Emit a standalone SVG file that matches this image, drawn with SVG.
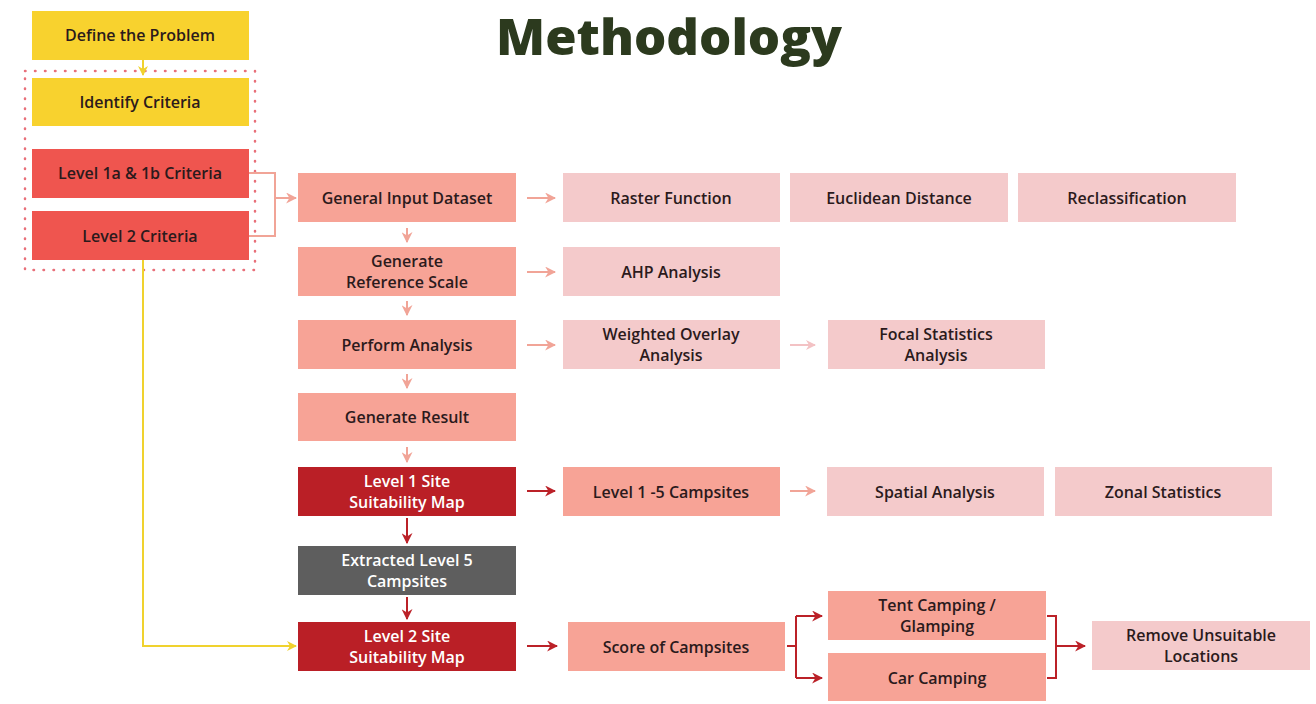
<svg xmlns="http://www.w3.org/2000/svg" width="1316" height="704" viewBox="0 0 1316 704">
<defs>
<style>
text{font-family:"Open Sans","Noto Sans","Liberation Sans",sans-serif;font-weight:600;font-size:16px;fill:#2b1a1c;text-anchor:middle}
.title{font-size:50px;font-weight:800;fill:#2c3a1e}
.w{fill:#ffffff}
.yel{fill:#f8d22e}
.red{fill:#ef554f}
.sal{fill:#f7a396}
.pnk{fill:#f4cacb}
.drk{fill:#ba1f26}
.gry{fill:#5e5e5e}
.c{fill:none;stroke-width:2}
</style>
<marker id="aP" viewBox="0 0 10 10" refX="9" refY="5" markerWidth="5.5" markerHeight="5.5" orient="auto"><path d="M0,0 L10,5 L0,10 L3,5 z" fill="#f1a497"/></marker>
<marker id="aL" viewBox="0 0 10 10" refX="9" refY="5" markerWidth="5" markerHeight="5" orient="auto"><path d="M0,0 L10,5 L0,10 L3,5 z" fill="#f3c2c4"/></marker>
<marker id="aR" viewBox="0 0 10 10" refX="9" refY="5" markerWidth="5.5" markerHeight="5.5" orient="auto"><path d="M0,0 L10,5 L0,10 L3,5 z" fill="#bb2128"/></marker>
<marker id="aY" viewBox="0 0 10 10" refX="9" refY="5" markerWidth="5" markerHeight="5" orient="auto"><path d="M0,0 L10,5 L0,10 L3,5 z" fill="#f0d22e"/></marker>
</defs>
<rect width="1316" height="704" fill="#ffffff"/>
<text class="title" x="669" y="55" textLength="346" lengthAdjust="spacingAndGlyphs">Methodology</text>

<g id="connectors">
<rect x="25" y="71" width="230" height="199" fill="none" stroke="#e8707a" stroke-width="2.5" stroke-dasharray="0.5 9.5" stroke-linecap="round"/>
<path class="c" d="M143,60 V75" stroke="#f0d22e" marker-end="url(#aY)"/>
<path class="c" d="M143,260 V646 H296" stroke="#f0d22e" marker-end="url(#aY)"/>
<path class="c" d="M249,173 H275 V236 H249" stroke="#f1a497"/>
<path class="c" d="M275,198 H296" stroke="#f1a497" marker-end="url(#aP)"/>
<path class="c" d="M527,198 H555" stroke="#f1a497" marker-end="url(#aP)"/>
<path class="c" d="M527,272 H555" stroke="#f1a497" marker-end="url(#aP)"/>
<path class="c" d="M527,345 H555" stroke="#f1a497" marker-end="url(#aP)"/>
<path class="c" d="M790,345 H815" stroke="#f3c2c4" marker-end="url(#aL)"/>
<path class="c" d="M407,228 V242" stroke="#f1a497" marker-end="url(#aP)"/>
<path class="c" d="M407,301 V315" stroke="#f1a497" marker-end="url(#aP)"/>
<path class="c" d="M407,374 V388" stroke="#f1a497" marker-end="url(#aP)"/>
<path class="c" d="M407,447 V462" stroke="#f1a497" marker-end="url(#aP)"/>
<path class="c" d="M527,491 H555" stroke="#bb2128" marker-end="url(#aR)"/>
<path class="c" d="M790,491 H815" stroke="#f1a497" marker-end="url(#aP)"/>
<path class="c" d="M407,518 V543" stroke="#bb2128" marker-end="url(#aR)"/>
<path class="c" d="M407,597 V619" stroke="#bb2128" marker-end="url(#aR)"/>
<path class="c" d="M527,646 H557" stroke="#bb2128" marker-end="url(#aR)"/>
<path class="c" d="M787,646 H796" stroke="#bb2128"/>
<path class="c" d="M796,616 V678" stroke="#bb2128"/>
<path class="c" d="M796,616 H822" stroke="#bb2128" marker-end="url(#aR)"/>
<path class="c" d="M796,678 H822" stroke="#bb2128" marker-end="url(#aR)"/>
<path class="c" d="M1047,616 H1056 V678 H1047" stroke="#bb2128"/>
<path class="c" d="M1056,646 H1085" stroke="#bb2128" marker-end="url(#aR)"/>
</g>

<g id="define"><rect class="yel" x="32" y="11" width="217" height="49"/><text x="140" y="41">Define the Problem</text></g>
<g id="identify"><rect class="yel" x="32" y="78" width="217" height="48"/><text x="140" y="108">Identify Criteria</text></g>
<g id="l1crit"><rect class="red" x="32" y="149" width="217" height="49"/><text x="140" y="179">Level 1a &amp; 1b Criteria</text></g>
<g id="l2crit"><rect class="red" x="32" y="211" width="217" height="49"/><text x="140" y="242">Level 2 Criteria</text></g>

<g id="gid"><rect class="sal" x="298" y="173" width="218" height="49"/><text x="407" y="204">General Input Dataset</text></g>
<g id="grs"><rect class="sal" x="298" y="247" width="218" height="49"/><text x="407" y="267">Generate</text><text x="407" y="288">Reference Scale</text></g>
<g id="pa"><rect class="sal" x="298" y="320" width="218" height="49"/><text x="407" y="351">Perform Analysis</text></g>
<g id="gr"><rect class="sal" x="298" y="393" width="218" height="48"/><text x="407" y="423">Generate Result</text></g>
<g id="l1map"><rect class="drk" x="298" y="467" width="218" height="49"/><text class="w" x="407" y="487">Level 1 Site</text><text class="w" x="407" y="508">Suitability Map</text></g>
<g id="ext"><rect class="gry" x="298" y="546" width="218" height="49"/><text class="w" x="407" y="566">Extracted Level 5</text><text class="w" x="407" y="587">Campsites</text></g>
<g id="l2map"><rect class="drk" x="298" y="622" width="218" height="49"/><text class="w" x="407" y="642">Level 2 Site</text><text class="w" x="407" y="663">Suitability Map</text></g>

<g id="raster"><rect class="pnk" x="563" y="173" width="217" height="49"/><text x="671" y="204">Raster Function</text></g>
<g id="eucl"><rect class="pnk" x="790" y="173" width="218" height="49"/><text x="899" y="204">Euclidean Distance</text></g>
<g id="recl"><rect class="pnk" x="1018" y="173" width="218" height="49"/><text x="1127" y="204">Reclassification</text></g>
<g id="ahp"><rect class="pnk" x="563" y="247" width="217" height="49"/><text x="671" y="278">AHP Analysis</text></g>
<g id="wo"><rect class="pnk" x="563" y="320" width="217" height="49"/><text x="671" y="340">Weighted Overlay</text><text x="671" y="361">Analysis</text></g>
<g id="focal"><rect class="pnk" x="828" y="320" width="217" height="49"/><text x="936" y="340">Focal Statistics</text><text x="936" y="361">Analysis</text></g>
<g id="l15"><rect class="sal" x="563" y="467" width="217" height="49"/><text x="671" y="498">Level 1 -5 Campsites</text></g>
<g id="spatial"><rect class="pnk" x="827" y="467" width="217" height="49"/><text x="935" y="498">Spatial Analysis</text></g>
<g id="zonal"><rect class="pnk" x="1055" y="467" width="217" height="49"/><text x="1163" y="498">Zonal Statistics</text></g>
<g id="score"><rect class="sal" x="568" y="622" width="217" height="49"/><text x="676" y="653">Score of Campsites</text></g>
<g id="tent"><rect class="sal" x="828" y="591" width="218" height="49"/><text x="937" y="611">Tent Camping /</text><text x="937" y="632">Glamping</text></g>
<g id="car"><rect class="sal" x="828" y="653" width="218" height="48"/><text x="937" y="684">Car Camping</text></g>
<g id="remove"><rect class="pnk" x="1092" y="621" width="218" height="49"/><text x="1201" y="641">Remove Unsuitable</text><text x="1201" y="662">Locations</text></g>
</svg>
